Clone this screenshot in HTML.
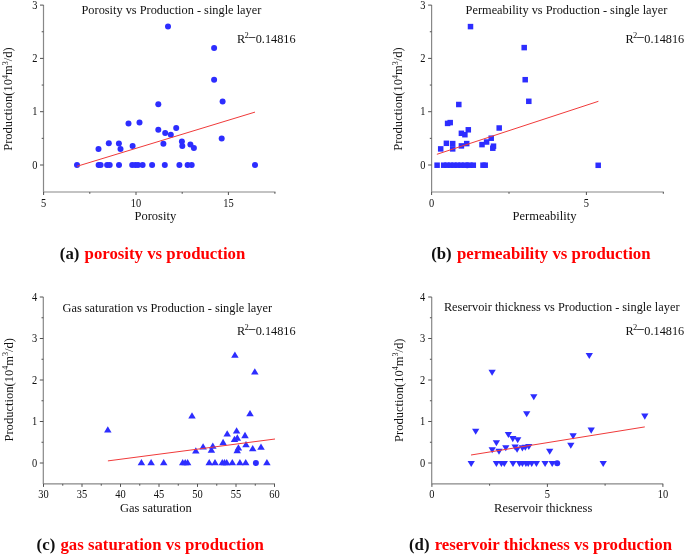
<!DOCTYPE html>
<html><head><meta charset="utf-8"><style>
html,body{margin:0;padding:0;background:#fff;}
body{width:685px;height:555px;overflow:hidden;}
svg{display:block;will-change:transform;}
text{font-family:"Liberation Serif",serif;fill:#111;}
</style></head><body>
<svg width="685" height="555" viewBox="0 0 685 555">
<rect width="685" height="555" fill="#fff"/>
<g stroke="#888888" stroke-width="1.2" fill="none">
<path d="M43.5 5.0V192.0M43.5 192.0H275.5"/>
</g>
<g stroke="#505050" stroke-width="1" fill="none">
<path d="M40.0 165.0H43.5"/>
<path d="M40.0 111.7H43.5"/>
<path d="M40.0 58.400000000000006H43.5"/>
<path d="M40.0 5.100000000000023H43.5"/>
<path d="M41.7 138.35H43.5"/>
<path d="M41.7 85.05000000000001H43.5"/>
<path d="M41.7 31.75H43.5"/>
<path d="M43.6 192.0V195.0"/>
<path d="M136.0 192.0V195.0"/>
<path d="M228.4 192.0V195.0"/>
<path d="M89.8 192.0V193.8"/>
<path d="M182.2 192.0V193.8"/>
<path d="M274.9 192.0V193.8"/>
</g>
<text transform="translate(37.4 168.6) scale(0.885 1)" font-size="11.8" text-anchor="end" >0</text>
<text transform="translate(37.4 115.3) scale(0.885 1)" font-size="11.8" text-anchor="end" >1</text>
<text transform="translate(37.4 62.00000000000001) scale(0.885 1)" font-size="11.8" text-anchor="end" >2</text>
<text transform="translate(37.4 8.700000000000022) scale(0.885 1)" font-size="11.8" text-anchor="end" >3</text>
<text transform="translate(43.6 206.8) scale(0.885 1)" font-size="11.8" text-anchor="middle" >5</text>
<text transform="translate(136.0 206.8) scale(0.885 1)" font-size="11.8" text-anchor="middle" >10</text>
<text transform="translate(228.4 206.8) scale(0.885 1)" font-size="11.8" text-anchor="middle" >15</text>
<text transform="translate(81.5 14.3) scale(0.935 1)" font-size="13.2" text-anchor="start" >Porosity vs Production - single layer</text>
<text x="237.0" y="42.9" font-size="12.25">R</text>
<text x="244.5" y="37.9" font-size="8.5">2</text>
<path d="M248.5 37.5H255.29999999999998" stroke="#333" stroke-width="0.9"/>
<text transform="translate(255.7 42.9) scale(0.93 1)" font-size="13.2">0.14816</text>
<text x="155.3" y="219.9" font-size="12.5" text-anchor="middle" >Porosity</text>
<text transform="translate(12.1 99.1) rotate(-90)" x="0" y="0" font-size="12.55" text-anchor="middle">Production(10<tspan font-size="8" dy="-4.5">4</tspan><tspan dy="4.5">m</tspan><tspan font-size="8" dy="-4.5">3</tspan><tspan dy="4.5">/d)</tspan></text>
<text x="59.8" y="258.6" font-size="16.8" font-weight="bold" fill="#000">(a) <tspan dx="1.0" fill="#f00">porosity vs production</tspan></text>
<g fill="#2d2dff">
<circle cx="77.0" cy="165.1" r="3.0"/>
<circle cx="98.6" cy="165.1" r="3.0"/>
<circle cx="100.6" cy="165.1" r="3.0"/>
<circle cx="107.1" cy="165.1" r="3.0"/>
<circle cx="109.7" cy="165.1" r="3.0"/>
<circle cx="119.0" cy="165.1" r="3.0"/>
<circle cx="132.2" cy="165.1" r="3.0"/>
<circle cx="135.3" cy="165.1" r="3.0"/>
<circle cx="138.0" cy="165.1" r="3.0"/>
<circle cx="142.6" cy="165.1" r="3.0"/>
<circle cx="152.1" cy="165.1" r="3.0"/>
<circle cx="164.8" cy="165.1" r="3.0"/>
<circle cx="179.4" cy="165.1" r="3.0"/>
<circle cx="187.6" cy="165.1" r="3.0"/>
<circle cx="191.7" cy="165.1" r="3.0"/>
<circle cx="255.0" cy="165.1" r="3.0"/>
<circle cx="98.5" cy="149.1" r="3.0"/>
<circle cx="108.8" cy="143.2" r="3.0"/>
<circle cx="118.9" cy="143.5" r="3.0"/>
<circle cx="120.5" cy="149.1" r="3.0"/>
<circle cx="128.5" cy="123.6" r="3.0"/>
<circle cx="139.5" cy="122.6" r="3.0"/>
<circle cx="132.6" cy="145.9" r="3.0"/>
<circle cx="158.3" cy="104.2" r="3.0"/>
<circle cx="158.3" cy="129.8" r="3.0"/>
<circle cx="165.2" cy="133.1" r="3.0"/>
<circle cx="170.8" cy="134.7" r="3.0"/>
<circle cx="176.2" cy="127.9" r="3.0"/>
<circle cx="163.4" cy="143.7" r="3.0"/>
<circle cx="181.9" cy="141.6" r="3.0"/>
<circle cx="182.3" cy="146.1" r="3.0"/>
<circle cx="190.4" cy="144.5" r="3.0"/>
<circle cx="193.9" cy="148.0" r="3.0"/>
<circle cx="221.7" cy="138.4" r="3.0"/>
<circle cx="222.6" cy="101.4" r="3.0"/>
<circle cx="168.0" cy="26.4" r="3.0"/>
<circle cx="214.1" cy="48.1" r="3.0"/>
<circle cx="214.1" cy="79.7" r="3.0"/>
</g>
<path d="M77 166.3L255 112.1" stroke="#f03a3a" stroke-width="1" fill="none"/>
<g stroke="#888888" stroke-width="1.2" fill="none">
<path d="M431.6 5.0V192.0M431.6 192.0H663.8"/>
</g>
<g stroke="#505050" stroke-width="1" fill="none">
<path d="M428.1 165.0H431.6"/>
<path d="M428.1 111.7H431.6"/>
<path d="M428.1 58.400000000000006H431.6"/>
<path d="M428.1 5.100000000000023H431.6"/>
<path d="M429.8 138.35H431.6"/>
<path d="M429.8 85.05000000000001H431.6"/>
<path d="M429.8 31.75H431.6"/>
<path d="M431.6 192.0V195.0"/>
<path d="M586.4 192.0V195.0"/>
<path d="M509.0 192.0V193.8"/>
<path d="M663.3 192.0V193.8"/>
</g>
<text transform="translate(425.5 168.6) scale(0.885 1)" font-size="11.8" text-anchor="end" >0</text>
<text transform="translate(425.5 115.3) scale(0.885 1)" font-size="11.8" text-anchor="end" >1</text>
<text transform="translate(425.5 62.00000000000001) scale(0.885 1)" font-size="11.8" text-anchor="end" >2</text>
<text transform="translate(425.5 8.700000000000022) scale(0.885 1)" font-size="11.8" text-anchor="end" >3</text>
<text transform="translate(431.6 206.8) scale(0.885 1)" font-size="11.8" text-anchor="middle" >0</text>
<text transform="translate(586.4 206.8) scale(0.885 1)" font-size="11.8" text-anchor="middle" >5</text>
<text transform="translate(465.6 14.3) scale(0.935 1)" font-size="13.2" text-anchor="start" >Permeability vs Production - single layer</text>
<text x="625.6" y="42.9" font-size="12.25">R</text>
<text x="633.1" y="37.9" font-size="8.5">2</text>
<path d="M637.1 37.5H643.9000000000001" stroke="#333" stroke-width="0.9"/>
<text transform="translate(644.3000000000001 42.9) scale(0.93 1)" font-size="13.2">0.14816</text>
<text x="544.5" y="220.1" font-size="12.5" text-anchor="middle" >Permeability</text>
<text transform="translate(402.3 99.1) rotate(-90)" x="0" y="0" font-size="12.55" text-anchor="middle">Production(10<tspan font-size="8" dy="-4.5">4</tspan><tspan dy="4.5">m</tspan><tspan font-size="8" dy="-4.5">3</tspan><tspan dy="4.5">/d)</tspan></text>
<text x="431.2" y="258.6" font-size="16.8" font-weight="bold" fill="#000">(b) <tspan dx="1.0" fill="#f00">permeability vs production</tspan></text>
<g fill="#2d2dff">
<rect x="434.35" y="162.45" width="5.5" height="5.5"/>
<rect x="440.95" y="162.45" width="5.5" height="5.5"/>
<rect x="444.25" y="162.45" width="5.5" height="5.5"/>
<rect x="447.75" y="162.45" width="5.5" height="5.5"/>
<rect x="451.25" y="162.45" width="5.5" height="5.5"/>
<rect x="454.75" y="162.45" width="5.5" height="5.5"/>
<rect x="458.25" y="162.45" width="5.5" height="5.5"/>
<rect x="461.75" y="162.45" width="5.5" height="5.5"/>
<rect x="467.25" y="162.45" width="5.5" height="5.5"/>
<rect x="470.55" y="162.45" width="5.5" height="5.5"/>
<rect x="480.25" y="162.45" width="5.5" height="5.5"/>
<rect x="482.45" y="162.45" width="5.5" height="5.5"/>
<circle cx="467.2" cy="165.3" r="3.0"/>
<rect x="467.75" y="23.85" width="5.5" height="5.5"/>
<rect x="521.45" y="44.85" width="5.5" height="5.5"/>
<rect x="522.45" y="76.95" width="5.5" height="5.5"/>
<rect x="526.05" y="98.55" width="5.5" height="5.5"/>
<rect x="456.05" y="101.75" width="5.5" height="5.5"/>
<rect x="444.85" y="120.65" width="5.5" height="5.5"/>
<rect x="447.45" y="119.85" width="5.5" height="5.5"/>
<rect x="458.65" y="130.55" width="5.5" height="5.5"/>
<rect x="462.15" y="131.95" width="5.5" height="5.5"/>
<rect x="465.55" y="127.05" width="5.5" height="5.5"/>
<rect x="496.45" y="125.25" width="5.5" height="5.5"/>
<rect x="443.65" y="140.55" width="5.5" height="5.5"/>
<rect x="437.95" y="146.15" width="5.5" height="5.5"/>
<rect x="449.95" y="140.85" width="5.5" height="5.5"/>
<rect x="449.95" y="146.15" width="5.5" height="5.5"/>
<rect x="458.65" y="143.15" width="5.5" height="5.5"/>
<rect x="463.95" y="140.85" width="5.5" height="5.5"/>
<rect x="479.25" y="141.85" width="5.5" height="5.5"/>
<rect x="483.85" y="139.25" width="5.5" height="5.5"/>
<rect x="488.45" y="135.45" width="5.5" height="5.5"/>
<rect x="490.75" y="143.45" width="5.5" height="5.5"/>
<rect x="490.05" y="145.45" width="5.5" height="5.5"/>
<rect x="595.45" y="162.55" width="5.5" height="5.5"/>
</g>
<path d="M436.9 154.3L598.4 101.3" stroke="#f03a3a" stroke-width="1" fill="none"/>
<g stroke="#888888" stroke-width="1.2" fill="none">
<path d="M43.3 296.9V483.9M43.3 483.9H275.0"/>
</g>
<g stroke="#505050" stroke-width="1" fill="none">
<path d="M39.8 463.0H43.3"/>
<path d="M39.8 421.5H43.3"/>
<path d="M39.8 380.0H43.3"/>
<path d="M39.8 338.5H43.3"/>
<path d="M39.8 297.0H43.3"/>
<path d="M41.5 442.25H43.3"/>
<path d="M41.5 400.75H43.3"/>
<path d="M41.5 359.25H43.3"/>
<path d="M41.5 317.75H43.3"/>
<path d="M43.5 483.9V486.9"/>
<path d="M82.0 483.9V486.9"/>
<path d="M120.5 483.9V486.9"/>
<path d="M159.0 483.9V486.9"/>
<path d="M197.5 483.9V486.9"/>
<path d="M236.0 483.9V486.9"/>
<path d="M274.5 483.9V486.9"/>
<path d="M62.75 483.9V485.7"/>
<path d="M101.25 483.9V485.7"/>
<path d="M139.75 483.9V485.7"/>
<path d="M178.25 483.9V485.7"/>
<path d="M216.75 483.9V485.7"/>
<path d="M255.25 483.9V485.7"/>
</g>
<text transform="translate(37.2 466.6) scale(0.885 1)" font-size="11.8" text-anchor="end" >0</text>
<text transform="translate(37.2 425.1) scale(0.885 1)" font-size="11.8" text-anchor="end" >1</text>
<text transform="translate(37.2 383.6) scale(0.885 1)" font-size="11.8" text-anchor="end" >2</text>
<text transform="translate(37.2 342.1) scale(0.885 1)" font-size="11.8" text-anchor="end" >3</text>
<text transform="translate(37.2 300.6) scale(0.885 1)" font-size="11.8" text-anchor="end" >4</text>
<text transform="translate(43.5 498.1) scale(0.885 1)" font-size="11.8" text-anchor="middle" >30</text>
<text transform="translate(82.0 498.1) scale(0.885 1)" font-size="11.8" text-anchor="middle" >35</text>
<text transform="translate(120.5 498.1) scale(0.885 1)" font-size="11.8" text-anchor="middle" >40</text>
<text transform="translate(159.0 498.1) scale(0.885 1)" font-size="11.8" text-anchor="middle" >45</text>
<text transform="translate(197.5 498.1) scale(0.885 1)" font-size="11.8" text-anchor="middle" >50</text>
<text transform="translate(236.0 498.1) scale(0.885 1)" font-size="11.8" text-anchor="middle" >55</text>
<text transform="translate(274.5 498.1) scale(0.885 1)" font-size="11.8" text-anchor="middle" >60</text>
<text transform="translate(62.5 312.2) scale(0.935 1)" font-size="13.2" text-anchor="start" >Gas saturation vs Production - single layer</text>
<text x="237.0" y="334.9" font-size="12.25">R</text>
<text x="244.5" y="329.9" font-size="8.5">2</text>
<path d="M248.5 329.5H255.29999999999998" stroke="#333" stroke-width="0.9"/>
<text transform="translate(255.7 334.9) scale(0.93 1)" font-size="13.2">0.14816</text>
<text x="155.9" y="511.9" font-size="12.5" text-anchor="middle" >Gas saturation</text>
<text transform="translate(12.9 389.8) rotate(-90)" x="0" y="0" font-size="12.55" text-anchor="middle">Production(10<tspan font-size="8" dy="-4.5">4</tspan><tspan dy="4.5">m</tspan><tspan font-size="8" dy="-4.5">3</tspan><tspan dy="4.5">/d)</tspan></text>
<text x="36.6" y="549.8" font-size="16.8" font-weight="bold" fill="#000">(c) <tspan dx="1.0" fill="#f00">gas saturation vs production</tspan></text>
<g fill="#2d2dff">
<path d="M141.40 459.05L145.15 465.35L137.65 465.35Z"/>
<path d="M151.10 459.05L154.85 465.35L147.35 465.35Z"/>
<path d="M163.70 459.05L167.45 465.35L159.95 465.35Z"/>
<path d="M182.70 459.05L186.45 465.35L178.95 465.35Z"/>
<path d="M185.20 459.05L188.95 465.35L181.45 465.35Z"/>
<path d="M187.60 459.05L191.35 465.35L183.85 465.35Z"/>
<path d="M209.20 459.05L212.95 465.35L205.45 465.35Z"/>
<path d="M215.00 459.05L218.75 465.35L211.25 465.35Z"/>
<path d="M222.30 459.05L226.05 465.35L218.55 465.35Z"/>
<path d="M224.50 459.05L228.25 465.35L220.75 465.35Z"/>
<path d="M226.70 459.05L230.45 465.35L222.95 465.35Z"/>
<path d="M232.30 459.05L236.05 465.35L228.55 465.35Z"/>
<path d="M239.90 459.05L243.65 465.35L236.15 465.35Z"/>
<path d="M245.70 459.05L249.45 465.35L241.95 465.35Z"/>
<path d="M266.90 459.05L270.65 465.35L263.15 465.35Z"/>
<circle cx="255.9" cy="463.1" r="3.0"/>
<path d="M107.80 426.15L111.55 432.45L104.05 432.45Z"/>
<path d="M192.00 412.15L195.75 418.45L188.25 418.45Z"/>
<path d="M250.00 409.95L253.75 416.25L246.25 416.25Z"/>
<path d="M234.90 351.45L238.65 357.75L231.15 357.75Z"/>
<path d="M254.80 368.15L258.55 374.45L251.05 374.45Z"/>
<path d="M236.60 427.25L240.35 433.55L232.85 433.55Z"/>
<path d="M227.20 430.15L230.95 436.45L223.45 436.45Z"/>
<path d="M245.00 431.85L248.75 438.15L241.25 438.15Z"/>
<path d="M234.50 435.65L238.25 441.95L230.75 441.95Z"/>
<path d="M237.30 434.35L241.05 440.65L233.55 440.65Z"/>
<path d="M223.10 438.85L226.85 445.15L219.35 445.15Z"/>
<path d="M203.10 443.15L206.85 449.45L199.35 449.45Z"/>
<path d="M212.80 442.55L216.55 448.85L209.05 448.85Z"/>
<path d="M211.40 446.45L215.15 452.75L207.65 452.75Z"/>
<path d="M195.80 447.25L199.55 453.55L192.05 453.55Z"/>
<path d="M246.00 441.05L249.75 447.35L242.25 447.35Z"/>
<path d="M238.40 444.25L242.15 450.55L234.65 450.55Z"/>
<path d="M237.20 446.95L240.95 453.25L233.45 453.25Z"/>
<path d="M252.70 445.05L256.45 451.35L248.95 451.35Z"/>
<path d="M261.00 443.55L264.75 449.85L257.25 449.85Z"/>
</g>
<path d="M107.9 460.9L275 439.0" stroke="#f03a3a" stroke-width="1" fill="none"/>
<g stroke="#888888" stroke-width="1.2" fill="none">
<path d="M431.7 296.9V483.9M431.7 483.9H663.2"/>
</g>
<g stroke="#505050" stroke-width="1" fill="none">
<path d="M428.2 463.0H431.7"/>
<path d="M428.2 421.5H431.7"/>
<path d="M428.2 380.0H431.7"/>
<path d="M428.2 338.5H431.7"/>
<path d="M428.2 297.0H431.7"/>
<path d="M429.9 442.25H431.7"/>
<path d="M429.9 400.75H431.7"/>
<path d="M429.9 359.25H431.7"/>
<path d="M429.9 317.75H431.7"/>
<path d="M431.9 483.9V486.9"/>
<path d="M547.4 483.9V486.9"/>
<path d="M662.9 483.9V486.9"/>
<path d="M489.6 483.9V485.7"/>
<path d="M605.1 483.9V485.7"/>
</g>
<text transform="translate(425.3 466.6) scale(0.885 1)" font-size="11.8" text-anchor="end" >0</text>
<text transform="translate(425.3 425.1) scale(0.885 1)" font-size="11.8" text-anchor="end" >1</text>
<text transform="translate(425.3 383.6) scale(0.885 1)" font-size="11.8" text-anchor="end" >2</text>
<text transform="translate(425.3 342.1) scale(0.885 1)" font-size="11.8" text-anchor="end" >3</text>
<text transform="translate(425.3 300.6) scale(0.885 1)" font-size="11.8" text-anchor="end" >4</text>
<text transform="translate(431.9 498.1) scale(0.885 1)" font-size="11.8" text-anchor="middle" >0</text>
<text transform="translate(547.4 498.1) scale(0.885 1)" font-size="11.8" text-anchor="middle" >5</text>
<text transform="translate(662.9 498.1) scale(0.885 1)" font-size="11.8" text-anchor="middle" >10</text>
<text transform="translate(443.9 310.8) scale(0.935 1)" font-size="13.2" text-anchor="start" >Reservoir thickness vs Production - single layer</text>
<text x="625.6" y="334.9" font-size="12.25">R</text>
<text x="633.1" y="329.9" font-size="8.5">2</text>
<path d="M637.1 329.5H643.9000000000001" stroke="#333" stroke-width="0.9"/>
<text transform="translate(644.3000000000001 334.9) scale(0.93 1)" font-size="13.2">0.14816</text>
<text x="543.2" y="512.0" font-size="12.5" text-anchor="middle" >Reservoir thickness</text>
<text transform="translate(402.7 390.2) rotate(-90)" x="0" y="0" font-size="12.55" text-anchor="middle">Production(10<tspan font-size="8" dy="-4.5">4</tspan><tspan dy="4.5">m</tspan><tspan font-size="8" dy="-4.5">3</tspan><tspan dy="4.5">/d)</tspan></text>
<text x="409.0" y="550.1" font-size="16.8" font-weight="bold" fill="#000">(d) <tspan dx="1.0" fill="#f00">reservoir thickness vs production</tspan></text>
<g fill="#2d2dff">
<path d="M467.55 460.95L474.85 460.95L471.20 467.05Z"/>
<path d="M492.75 460.95L500.05 460.95L496.40 467.05Z"/>
<path d="M497.75 460.95L505.05 460.95L501.40 467.05Z"/>
<path d="M500.65 460.95L507.95 460.95L504.30 467.05Z"/>
<path d="M509.35 460.95L516.65 460.95L513.00 467.05Z"/>
<path d="M515.85 460.95L523.15 460.95L519.50 467.05Z"/>
<path d="M518.75 460.95L526.05 460.95L522.40 467.05Z"/>
<path d="M522.25 460.95L529.55 460.95L525.90 467.05Z"/>
<path d="M524.55 460.95L531.85 460.95L528.20 467.05Z"/>
<path d="M528.05 460.95L535.35 460.95L531.70 467.05Z"/>
<path d="M532.75 460.95L540.05 460.95L536.40 467.05Z"/>
<path d="M541.45 460.95L548.75 460.95L545.10 467.05Z"/>
<path d="M548.55 460.95L555.85 460.95L552.20 467.05Z"/>
<path d="M599.55 460.95L606.85 460.95L603.20 467.05Z"/>
<circle cx="557.2" cy="463.2" r="3.0"/>
<path d="M488.45 369.65L495.75 369.65L492.10 375.75Z"/>
<path d="M585.65 352.95L592.95 352.95L589.30 359.05Z"/>
<path d="M530.15 394.25L537.45 394.25L533.80 400.35Z"/>
<path d="M523.05 411.15L530.35 411.15L526.70 417.25Z"/>
<path d="M472.05 428.65L479.35 428.65L475.70 434.75Z"/>
<path d="M641.15 413.55L648.45 413.55L644.80 419.65Z"/>
<path d="M587.55 427.55L594.85 427.55L591.20 433.65Z"/>
<path d="M569.45 433.35L576.75 433.35L573.10 439.45Z"/>
<path d="M567.15 442.75L574.45 442.75L570.80 448.85Z"/>
<path d="M546.05 448.65L553.35 448.65L549.70 454.75Z"/>
<path d="M504.75 431.95L512.05 431.95L508.40 438.05Z"/>
<path d="M509.15 436.05L516.45 436.05L512.80 442.15Z"/>
<path d="M514.05 437.25L521.35 437.25L517.70 443.35Z"/>
<path d="M492.75 440.15L500.05 440.15L496.40 446.25Z"/>
<path d="M502.15 445.15L509.45 445.15L505.80 451.25Z"/>
<path d="M511.45 444.45L518.75 444.45L515.10 450.55Z"/>
<path d="M513.45 446.75L520.75 446.75L517.10 452.85Z"/>
<path d="M518.75 445.35L526.05 445.35L522.40 451.45Z"/>
<path d="M521.65 444.75L528.95 444.75L525.30 450.85Z"/>
<path d="M525.15 443.95L532.45 443.95L528.80 450.05Z"/>
<path d="M488.55 447.15L495.85 447.15L492.20 453.25Z"/>
<path d="M495.35 448.65L502.65 448.65L499.00 454.75Z"/>
</g>
<path d="M471 455L644.8 426.9" stroke="#f03a3a" stroke-width="1" fill="none"/>
</svg>
</body></html>
